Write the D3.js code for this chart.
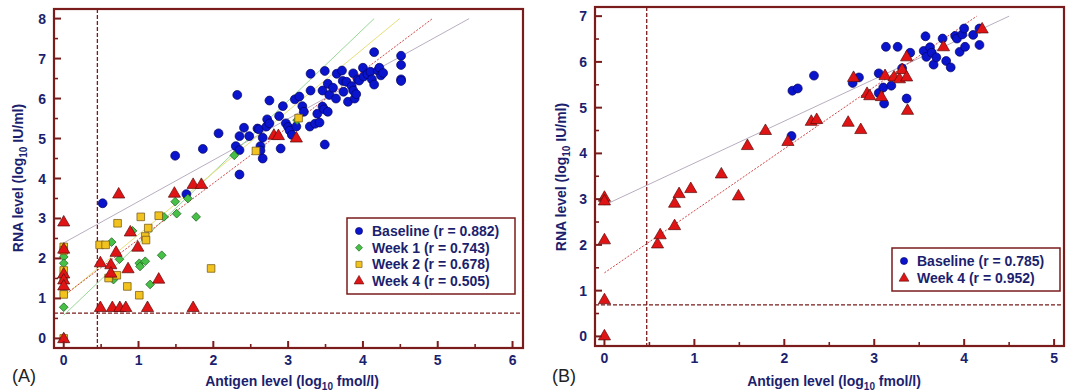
<!DOCTYPE html>
<html>
<head>
    <title>RNA vs Antigen</title>
    <script src="https://d3js.org/d3.v7.min.js"></script>
    <style>
        body { margin: 0; background: #fff; }
        svg { display: block; font-family: "Liberation Sans", Arial, sans-serif; }
        .tick-label { font-size: 14px; font-weight: bold; fill: #1c1f6e; }
        .axis-title { font-size: 14px; font-weight: bold; fill: #1c1f6e; }
        .legend-text { font-size: 14px; font-weight: bold; fill: #1c1f6e; }
        .panel-tag { font-size: 18px; fill: #222; }
    </style>
</head>
<body>
<svg width="1070" height="392" id="chart"></svg>
<script>
    // ---- data (x = antigen log10 fmol/l, y = RNA log10 IU/ml) ----
    const baselineA = [
        [0.52,3.38],[1.49,4.57],[1.64,3.61],[1.86,4.74],[2.07,5.13],[2.32,6.09],[2.35,4.10],[2.30,4.81],
        [2.35,4.71],[2.35,5.06],[2.41,5.27],[2.48,5.06],[2.59,5.25],[2.61,5.23],[2.63,4.81],[2.63,4.70],
        [2.66,4.50],[2.66,5.02],[2.71,5.30],[2.72,5.48],[2.75,5.95],[2.75,5.38],[2.88,5.56],[2.90,4.75],
        [2.93,5.81],[2.97,5.38],[3.00,5.29],[3.02,5.20],[3.05,5.09],[3.09,5.98],[3.15,6.05],[3.11,5.30],
        [3.19,5.81],[3.21,5.67],[3.30,6.62],[3.30,6.20],[3.29,5.30],[3.36,5.37],[3.39,5.62],[3.42,5.40],
        [3.46,5.80],[3.48,5.73],[3.49,6.69],[3.49,4.85],[3.53,5.67],[3.46,6.20],[3.53,6.37],[3.55,6.09],
        [3.60,6.27],[3.65,6.62],[3.64,6.00],[3.72,6.70],[3.73,6.44],[3.74,6.17],[3.78,6.42],[3.80,5.92],
        [3.85,6.31],[3.87,6.20],[3.89,6.00],[3.91,6.11],[3.87,6.63],[3.93,6.48],[3.95,6.45],[4.00,6.77],
        [4.01,6.55],[4.06,6.61],[4.10,6.67],[4.12,6.48],[4.15,6.35],[4.15,7.16],[4.20,6.70],[4.22,6.77],
        [4.24,6.58],[4.27,6.64],[4.51,7.07],[4.51,6.84],[4.51,6.48],[4.51,6.44]
    ];
    const week1A = [
        [0,2.04],[0,1.88],[0,0.78],[0.64,2.41],[0.745,1.98],[0.665,1.47],[0.92,2.69],[1.01,1.88],
        [1.02,1.80],[1.09,1.93],[1.155,1.35],[1.31,2.08],[1.34,3.04],[1.49,3.42],[1.51,3.12],
        [1.66,3.50],[1.77,3.04],[2.28,4.58],[3.12,5.46]
    ];
    const week2A = [
        [0,2.29],[0,2.20],[0,1.70],[0,1.50],[0,1.10],[0,0.0],[0.48,2.34],[0.56,2.34],[0.72,2.88],
        [1.03,3.04],[1.27,3.07],[1.13,2.76],[1.09,2.55],[1.10,2.46],[0.71,1.58],[0.60,1.51],
        [0.85,1.30],[1.01,1.08],[1.97,1.75],[2.57,4.69],[3.14,5.51]
    ];
    const week4A = [
        [0,2.90],[0,2.22],[0,1.60],[0,1.45],[0,1.30],[0,-0.02],[0.49,1.88],[0.63,1.83],[0.63,1.62],
        [0.70,2.14],[0.735,3.60],[0.86,1.73],[0.89,2.65],[0.99,2.27],[1.27,1.47],[1.48,3.62],
        [1.73,3.84],[1.84,3.84],[2.81,5.07],[2.87,5.06],[3.11,5.00],[0.49,0.76],[0.65,0.76],
        [0.75,0.76],[0.83,0.76],[1.12,0.76],[1.73,0.76]
    ];
    const baselineB = [
        [2.08,4.38],[2.09,5.37],[2.15,5.42],[2.33,5.70],[2.76,5.54],[2.83,5.66],[3.05,5.75],[3.13,6.33],
        [3.26,6.33],[3.05,5.32],[3.10,5.44],[3.11,5.09],[3.19,5.48],[3.31,5.86],[3.36,5.20],[3.40,6.20],
        [3.57,6.56],[3.55,6.24],[3.58,6.11],[3.62,6.32],[3.64,6.20],[3.66,5.94],[3.69,6.10],[3.76,6.51],
        [3.80,6.02],[3.85,5.88],[3.90,6.57],[3.92,6.51],[3.95,6.22],[3.98,6.60],[4.00,6.73],[4.01,6.33],
        [4.10,6.59],[4.17,6.73],[4.17,6.37]
    ];
    const week4B = [
        [0,3.03],[0,2.95],[0,2.10],[0,0.79],[0,0.0],[0.59,2.01],[0.62,2.21],[0.78,2.41],[0.78,2.90],
        [0.83,3.11],[0.96,3.22],[1.30,3.54],[1.49,3.06],[1.59,4.16],[1.79,4.49],[2.04,4.25],[2.30,4.69],
        [2.36,4.73],[2.71,4.67],[2.85,4.51],[2.77,5.65],[2.92,5.30],[2.95,5.25],[3.08,5.23],[3.12,5.69],
        [3.22,5.66],[3.28,5.62],[3.31,5.82],[3.36,5.66],[3.36,6.10],[3.37,4.93],[3.77,6.32],[4.20,6.71]
    ];

    // fitted lines, [x0, y0, x1, y1]
    const fitsA = [[0,2.39,5.42,8.0],[0,0.58,4.15,8.0],[0,1.05,4.49,8.0],[0,1.07,4.93,8.0]];
    const fitsB = [[0,2.87,4.5,7.0],[0,1.39,4.14,7.0]];

    const labelsA = ["Baseline (r = 0.882)", "Week 1 (r = 0.743)", "Week 2 (r = 0.678)", "Week 4 (r = 0.505)"];
    const labelsB = ["Baseline (r = 0.785)", "Week 4 (r = 0.952)"];

    const xTicksA = [0,1,2,3,4,5,6];
    const yTicksA = [0,1,2,3,4,5,6,7,8];
    const xTicksB = [0,1,2,3,4,5];
    const yTicksB = [0,1,2,3,4,5,6,7];

    // cut-off lines: [antigen cut, RNA cut]
    const cutsA = [0.45, 0.63];
    const cutsB = [0.47, 0.69];

    // ---- styles ----
    const maroon = "#7a1c1c";
    const styles = {
        base:  { shape: d3.symbolCircle,   size: 62, rot: 0,  fill: "#0a14cc", stroke: "#05055e", line: "#b8aec0", dash: null },
        week1: { shape: d3.symbolSquare,   size: 38, rot: 45, fill: "#46c046", stroke: "#1d5e1d", line: "#9ad79a", dash: null },
        week2: { shape: d3.symbolSquare,   size: 58, rot: 0,  fill: "#f2c21e", stroke: "#6a5010", line: "#e6e07a", dash: null },
        week4: { shape: d3.symbolTriangle, size: 64, rot: 0,  fill: "#e01414", stroke: "#5a0c0c", line: "#d24848", dash: "2,1.5" }
    };

    const svg = d3.select("#chart");

    function drawPanel(cfg) {
        const x = d3.scaleLinear().domain(cfg.xDomain).range([cfg.left, cfg.right]);
        const y = d3.scaleLinear().domain(cfg.yDomain).range([cfg.bottom, cfg.top]);
        const g = svg.append("g");

        // cut-off lines
        g.append("line")
            .attr("x1", x(cfg.cuts[0])).attr("x2", x(cfg.cuts[0]))
            .attr("y1", cfg.top).attr("y2", cfg.bottom)
            .attr("stroke", maroon).attr("stroke-width", 1.3).attr("stroke-dasharray", "4,2");
        g.append("line")
            .attr("x1", cfg.left).attr("x2", cfg.right)
            .attr("y1", y(cfg.cuts[1])).attr("y2", y(cfg.cuts[1]))
            .attr("stroke", maroon).attr("stroke-width", 1.3).attr("stroke-dasharray", "4,2");

        // fit lines
        cfg.series.forEach((s, i) => {
            const f = cfg.fits[i];
            const st = styles[s.key];
            g.append("line")
                .attr("x1", x(f[0])).attr("y1", y(f[1]))
                .attr("x2", x(f[2])).attr("y2", y(f[3]))
                .attr("stroke", st.line).attr("stroke-width", 1)
                .attr("stroke-dasharray", st.dash);
        });

        // points
        cfg.series.forEach(s => {
            const st = styles[s.key];
            g.append("g").selectAll("path")
                .data(s.data)
                .enter().append("path")
                .attr("d", d3.symbol().type(st.shape).size(st.size))
                .attr("transform", d => `translate(${x(d[0])},${y(d[1])}) rotate(${st.rot})`)
                .attr("fill", st.fill)
                .attr("stroke", st.stroke)
                .attr("stroke-width", 0.7);
        });

        // frame
        g.append("rect")
            .attr("x", cfg.left).attr("y", cfg.top)
            .attr("width", cfg.right - cfg.left).attr("height", cfg.bottom - cfg.top)
            .attr("fill", "none").attr("stroke", maroon).attr("stroke-width", 2.2);

        // ticks (inward), majors + half minors
        cfg.xTicks.forEach((t, i) => {
            g.append("line")
                .attr("x1", x(t)).attr("x2", x(t))
                .attr("y1", cfg.bottom).attr("y2", cfg.bottom - 7)
                .attr("stroke", maroon).attr("stroke-width", 2);
            g.append("text").attr("class", "tick-label")
                .attr("x", x(t)).attr("y", cfg.bottom + 17)
                .attr("text-anchor", "middle").text(t);
            if (i < cfg.xTicks.length - 1) {
                const m = (t + cfg.xTicks[i + 1]) / 2;
                g.append("line")
                    .attr("x1", x(m)).attr("x2", x(m))
                    .attr("y1", cfg.bottom).attr("y2", cfg.bottom - 4)
                    .attr("stroke", maroon).attr("stroke-width", 1.6);
            }
        });
        cfg.yTicks.forEach((t, i) => {
            g.append("line")
                .attr("x1", cfg.left).attr("x2", cfg.left + 7)
                .attr("y1", y(t)).attr("y2", y(t))
                .attr("stroke", maroon).attr("stroke-width", 2);
            g.append("text").attr("class", "tick-label")
                .attr("x", cfg.left - 8).attr("y", y(t) + 5)
                .attr("text-anchor", "end").text(t);
            if (i < cfg.yTicks.length - 1) {
                const m = (t + cfg.yTicks[i + 1]) / 2;
                g.append("line")
                    .attr("x1", cfg.left).attr("x2", cfg.left + 4)
                    .attr("y1", y(m)).attr("y2", y(m))
                    .attr("stroke", maroon).attr("stroke-width", 1.6);
            }
        });

        // axis titles
        const xt = g.append("text").attr("class", "axis-title")
            .attr("x", cfg.xTitle[0]).attr("y", cfg.xTitle[1]).attr("text-anchor", "middle");
        xt.append("tspan").text("Antigen level (log");
        xt.append("tspan").attr("font-size", "10px").attr("dy", 4).text("10");
        xt.append("tspan").attr("dy", -4).text(" fmol/l)");

        const yt = g.append("text").attr("class", "axis-title")
            .attr("transform", `translate(${cfg.yTitle[0]},${cfg.yTitle[1]}) rotate(-90)`)
            .attr("text-anchor", "middle");
        yt.append("tspan").text("RNA level (log");
        yt.append("tspan").attr("font-size", "10px").attr("dy", 4).text("10");
        yt.append("tspan").attr("dy", -4).text(" IU/ml)");

        g.append("text").attr("class", "panel-tag")
            .attr("x", cfg.tag[0]).attr("y", cfg.tag[1]).text(cfg.tagText);

        // legend
        const L = cfg.legend;
        g.append("rect")
            .attr("x", L.x).attr("y", L.y).attr("width", L.w).attr("height", L.h)
            .attr("fill", "#fff").attr("stroke", maroon).attr("stroke-width", 1.5);
        cfg.series.forEach((s, i) => {
            const st = styles[s.key];
            const ly = L.y + 13 + i * L.step;
            g.append("path")
                .attr("d", d3.symbol().type(st.shape).size(st.size * 0.65))
                .attr("transform", `translate(${L.x + 12},${ly}) rotate(${st.rot})`)
                .attr("fill", st.fill).attr("stroke", st.stroke).attr("stroke-width", 0.6);
            g.append("text").attr("class", "legend-text")
                .attr("x", L.x + 25).attr("y", ly + 5).text(cfg.labels[i]);
        });
    }

    drawPanel({
        left: 54, right: 523, top: 9, bottom: 348,
        xDomain: [-0.13, 6.14], yDomain: [-0.24, 8.24],
        xTicks: xTicksA, yTicks: yTicksA, cuts: cutsA, fits: fitsA,
        series: [
            { key: "base", data: baselineA },
            { key: "week1", data: week1A },
            { key: "week2", data: week2A },
            { key: "week4", data: week4A }
        ],
        labels: labelsA,
        legend: { x: 347, y: 218, w: 168, h: 76, step: 16.7 },
        xTitle: [292, 386], yTitle: [23, 178], tag: [12, 382], tagText: "(A)"
    });

    drawPanel({
        left: 595, right: 1064, top: 7, bottom: 346,
        xDomain: [-0.105, 5.11], yDomain: [-0.21, 7.2],
        xTicks: xTicksB, yTicks: yTicksB, cuts: cutsB, fits: fitsB,
        series: [
            { key: "base", data: baselineB },
            { key: "week4", data: week4B }
        ],
        labels: labelsB,
        legend: { x: 892, y: 248, w: 168, h: 43, step: 17.3 },
        xTitle: [834, 386], yTitle: [566, 177], tag: [552, 382], tagText: "(B)"
    });
</script>
</body>
</html>
